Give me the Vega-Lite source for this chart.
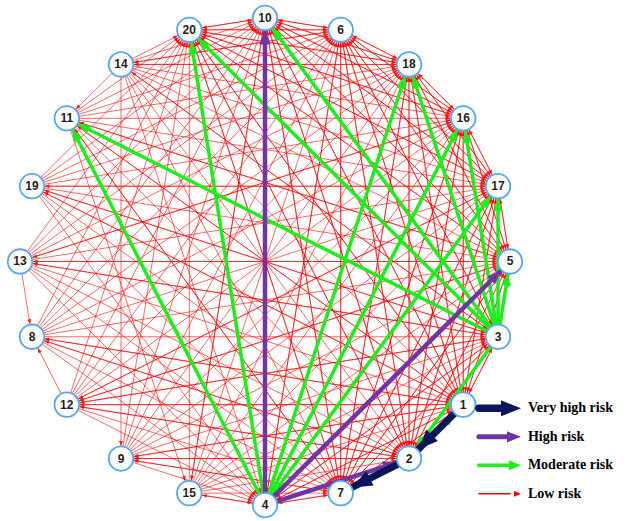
{
  "$schema": "https://vega.github.io/schema/vega-lite/v6.json",
  "width": 630,
  "height": 521,
  "autosize": {"type": "fit", "contains": "padding"},
  "padding": 0,
  "background": "white",
  "config": {"view": {"stroke": null}},
  "datasets": {
    "nodes": [
      {"id": 10, "k": 0}, {"id": 6, "k": 1}, {"id": 18, "k": 2}, {"id": 16, "k": 3},
      {"id": 17, "k": 4}, {"id": 5, "k": 5}, {"id": 3, "k": 6}, {"id": 1, "k": 7},
      {"id": 2, "k": 8}, {"id": 7, "k": 9}, {"id": 4, "k": 10}, {"id": 15, "k": 11},
      {"id": 9, "k": 12}, {"id": 12, "k": 13}, {"id": 8, "k": 14}, {"id": 13, "k": 15},
      {"id": 19, "k": 16}, {"id": 11, "k": 17}, {"id": 14, "k": 18}, {"id": 20, "k": 19}
    ],
    "edges": [
      {"s": 10, "t": [6,18,16,17,5,3,1,2,7,4,20,15], "risk": "Low risk"},
      {"s": 6, "t": [10,18,16,17,5,3,1,2,7,4,20,14], "risk": "Low risk"},
      {"s": 18, "t": [10,6,16,17,5,3,1,2,7,4,20,14], "risk": "Low risk"},
      {"s": 16, "t": [10,6,18,17,5,3,1,2,7,4,20,13], "risk": "Low risk"},
      {"s": 17, "t": [10,6,18,16,5,3,1,2,7,4,20,19,12], "risk": "Low risk"},
      {"s": 5, "t": [10,6,18,16,17,3,1,2,7,4,20,11,13,12], "risk": "Low risk"},
      {"s": 3, "t": [6,1,7,4,14,19,13,12], "risk": "Low risk"},
      {"s": 1, "t": [10,6,18,16,17,5,3,7,4,20,11,19,8,12,9], "risk": "Low risk"},
      {"s": 2, "t": [10,6,18,16,17,5,3,4,20,8,12,9], "risk": "Low risk"},
      {"s": 7, "t": [10,6,18,16,17,5,3,1,2,4,20,11,9], "risk": "Low risk"},
      {"s": 4, "t": [6,3,1,7,15], "risk": "Low risk"},
      {"s": 20, "t": [10,6,18,16,17,5,3,1,2,7,4], "risk": "Low risk"},
      {"s": 15, "t": [10,6,18,16,17,5,3,1,2,7,4,20], "risk": "Low risk"},
      {"s": 9, "t": [10,6,18,16,17,5,3,1,2,7,4,20], "risk": "Low risk"},
      {"s": 12, "t": [10,6,18,16,17,5,3,1,2,7,4,20,8], "risk": "Low risk"},
      {"s": 8, "t": [10,6,18,16,17,5,3,1,2,7,4,20], "risk": "Low risk"},
      {"s": 13, "t": [10,6,18,16,17,5,3,1,2,7,4,20,8], "risk": "Low risk"},
      {"s": 19, "t": [10,6,18,16,17,5,3,1,2,7,4,20], "risk": "Low risk"},
      {"s": 11, "t": [10,6,18,16,17,5,3,1,2,7,4,20,15], "risk": "Low risk"},
      {"s": 14, "t": [10,6,18,16,17,5,3,1,2,7,4,20,11,9], "risk": "Low risk"},
      {"s": 4, "t": [20,11,18,16,17], "risk": "Moderate risk"},
      {"s": 3, "t": [20,10,11,18,16,17,5,2], "risk": "Moderate risk"},
      {"s": 2, "t": [1], "risk": "Moderate risk"},
      {"s": 4, "t": [10,5,2], "risk": "High risk"},
      {"s": 1, "t": [2], "risk": "Very high risk"},
      {"s": 2, "t": [7], "risk": "Very high risk"}
    ],
    "legend": [
      {"risk": "Very high risk", "r": 0},
      {"risk": "High risk", "r": 1},
      {"risk": "Moderate risk", "r": 2},
      {"risk": "Low risk", "r": 3}
    ]
  },
  "layer": [
    {
      "data": {"name": "edges"},
      "transform": [
        {"flatten": ["t"]},
        {"lookup": "s", "from": {"data": {"name": "nodes"}, "key": "id", "fields": ["k"]}, "as": ["ks"]},
        {"lookup": "t", "from": {"data": {"name": "nodes"}, "key": "id", "fields": ["k"]}, "as": ["kt"]},
        {"calculate": "sin(datum.ks*PI/10)", "as": "x1"},
        {"calculate": "cos(datum.ks*PI/10)", "as": "y1"},
        {"calculate": "sin(datum.kt*PI/10)", "as": "x2"},
        {"calculate": "cos(datum.kt*PI/10)", "as": "y2"},
        {"calculate": "sqrt(pow(datum.x2-datum.x1,2)+pow(datum.y2-datum.y1,2))", "as": "len"},
        {"calculate": "datum.x2-(datum.x2-datum.x1)/datum.len*0.052", "as": "ax"},
        {"calculate": "datum.y2-(datum.y2-datum.y1)/datum.len*0.052", "as": "ay"},
        {"calculate": "atan2(datum.x2-datum.x1, datum.y2-datum.y1)*180/PI", "as": "ang"}
      ],
      "layer": [
        {
          "transform": [{"filter": "datum.risk == 'Low risk'"}],
          "mark": {"type": "rule", "strokeWidth": 1, "opacity": 0.6, "color": "#ff0000"},
          "encoding": {
            "x": {"field": "x1", "type": "quantitative", "scale": {"domain": [-1.0816, 1.4898], "nice": false, "zero": false}, "axis": null},
            "y": {"field": "y1", "type": "quantitative", "scale": {"domain": [-1.0531, 1.0735], "nice": false, "zero": false}, "axis": null},
            "x2": {"field": "x2"},
            "y2": {"field": "y2"}
          }
        },
        {
          "transform": [{"filter": "datum.risk == 'Low risk'"}],
          "mark": {"type": "point", "shape": "M0,0L0.8,2L-0.8,2Z", "filled": true, "opacity": 0.85, "strokeWidth": 0, "color": "#ff0000", "size": 24},
          "encoding": {
            "x": {"field": "ax", "type": "quantitative", "axis": null},
            "y": {"field": "ay", "type": "quantitative", "axis": null},
            "angle": {"field": "ang", "type": "quantitative", "scale": null}
          }
        },
        {
          "transform": [{"filter": "datum.risk == 'Moderate risk'"}],
          "mark": {"type": "rule", "strokeWidth": 3.5, "color": "#1bef1b"},
          "encoding": {
            "x": {"field": "x1", "type": "quantitative", "axis": null},
            "y": {"field": "y1", "type": "quantitative", "axis": null},
            "x2": {"field": "x2"},
            "y2": {"field": "y2"}
          }
        },
        {
          "transform": [{"filter": "datum.risk == 'Moderate risk'"}],
          "mark": {"type": "point", "shape": "M0,0L0.8,2L-0.8,2Z", "filled": true, "opacity": 1, "strokeWidth": 0, "color": "#1bef1b", "size": 144},
          "encoding": {
            "x": {"field": "ax", "type": "quantitative", "axis": null},
            "y": {"field": "ay", "type": "quantitative", "axis": null},
            "angle": {"field": "ang", "type": "quantitative", "scale": null}
          }
        },
        {
          "transform": [{"filter": "datum.risk == 'High risk'"}],
          "mark": {"type": "rule", "strokeWidth": 4.5, "color": "#7035a3"},
          "encoding": {
            "x": {"field": "x1", "type": "quantitative", "axis": null},
            "y": {"field": "y1", "type": "quantitative", "axis": null},
            "x2": {"field": "x2"},
            "y2": {"field": "y2"}
          }
        },
        {
          "transform": [{"filter": "datum.risk == 'High risk'"}],
          "mark": {"type": "point", "shape": "M0,0L0.8,2L-0.8,2Z", "filled": true, "opacity": 1, "strokeWidth": 0, "color": "#7035a3", "size": 196},
          "encoding": {
            "x": {"field": "ax", "type": "quantitative", "axis": null},
            "y": {"field": "ay", "type": "quantitative", "axis": null},
            "angle": {"field": "ang", "type": "quantitative", "scale": null}
          }
        },
        {
          "transform": [{"filter": "datum.risk == 'Very high risk'"}],
          "mark": {"type": "rule", "strokeWidth": 7, "color": "#0b1659"},
          "encoding": {
            "x": {"field": "x1", "type": "quantitative", "axis": null},
            "y": {"field": "y1", "type": "quantitative", "axis": null},
            "x2": {"field": "x2"},
            "y2": {"field": "y2"}
          }
        },
        {
          "transform": [{"filter": "datum.risk == 'Very high risk'"}],
          "mark": {"type": "point", "shape": "M0,0L0.8,2L-0.8,2Z", "filled": true, "opacity": 1, "strokeWidth": 0, "color": "#0b1659", "size": 400},
          "encoding": {
            "x": {"field": "ax", "type": "quantitative", "axis": null},
            "y": {"field": "ay", "type": "quantitative", "axis": null},
            "angle": {"field": "ang", "type": "quantitative", "scale": null}
          }
        }
      ]
    },
    {
      "data": {"name": "nodes"},
      "transform": [
        {"calculate": "sin(datum.k*PI/10)", "as": "x"},
        {"calculate": "cos(datum.k*PI/10)", "as": "y"}
      ],
      "layer": [
        {
          "mark": {"type": "point", "shape": "circle", "filled": true, "fill": "white", "stroke": "#55a7f2", "strokeWidth": 1.8, "size": 600, "opacity": 1},
          "encoding": {
            "x": {"field": "x", "type": "quantitative", "axis": null},
            "y": {"field": "y", "type": "quantitative", "axis": null}
          }
        },
        {
          "mark": {"type": "text", "font": "Liberation Sans", "fontWeight": "bold", "fontSize": 12, "color": "#1e1e1e", "align": "center", "baseline": "middle"},
          "encoding": {
            "x": {"field": "x", "type": "quantitative", "axis": null},
            "y": {"field": "y", "type": "quantitative", "axis": null},
            "text": {"field": "id", "type": "nominal"}
          }
        }
      ]
    },
    {
      "data": {"name": "legend"},
      "transform": [
        {"calculate": "-0.603 - 0.117*datum.r", "as": "ly"}
      ],
      "layer": [
        {
          "mark": {"type": "rule", "strokeCap": "round"},
          "encoding": {
            "x": {"datum": 0.873, "type": "quantitative", "axis": null},
            "x2": {"datum": 1.0},
            "y": {"field": "ly", "type": "quantitative", "axis": null},
            "strokeWidth": {"field": "risk", "type": "nominal", "scale": {"type": "ordinal", "domain": ["Very high risk", "High risk", "Moderate risk", "Low risk"], "range": [7.5, 5, 3.5, 1.5]}, "legend": null},
            "color": {"field": "risk", "type": "nominal", "scale": {"domain": ["Very high risk", "High risk", "Moderate risk", "Low risk"], "range": ["#0b1659", "#7035a3", "#1bef1b", "#ff0000"]}, "legend": null}
          }
        },
        {
          "mark": {"type": "point", "shape": "M0,0L0.8,2L-0.8,2Z", "filled": true, "opacity": 1, "strokeWidth": 0, "angle": 90},
          "encoding": {
            "x": {"datum": 1.045, "type": "quantitative", "axis": null},
            "y": {"field": "ly", "type": "quantitative", "axis": null},
            "size": {"field": "risk", "type": "nominal", "scale": {"type": "ordinal", "domain": ["Very high risk", "High risk", "Moderate risk", "Low risk"], "range": [400, 196, 144, 49]}, "legend": null},
            "color": {"field": "risk", "type": "nominal", "scale": {"domain": ["Very high risk", "High risk", "Moderate risk", "Low risk"], "range": ["#0b1659", "#7035a3", "#1bef1b", "#ff0000"]}, "legend": null}
          }
        },
        {
          "mark": {"type": "text", "font": "Liberation Serif", "fontWeight": "bold", "fontSize": 14, "color": "#000000", "align": "left", "baseline": "middle"},
          "encoding": {
            "x": {"datum": 1.073, "type": "quantitative", "axis": null},
            "y": {"field": "ly", "type": "quantitative", "axis": null},
            "text": {"field": "risk", "type": "nominal"}
          }
        }
      ]
    }
  ]
}
